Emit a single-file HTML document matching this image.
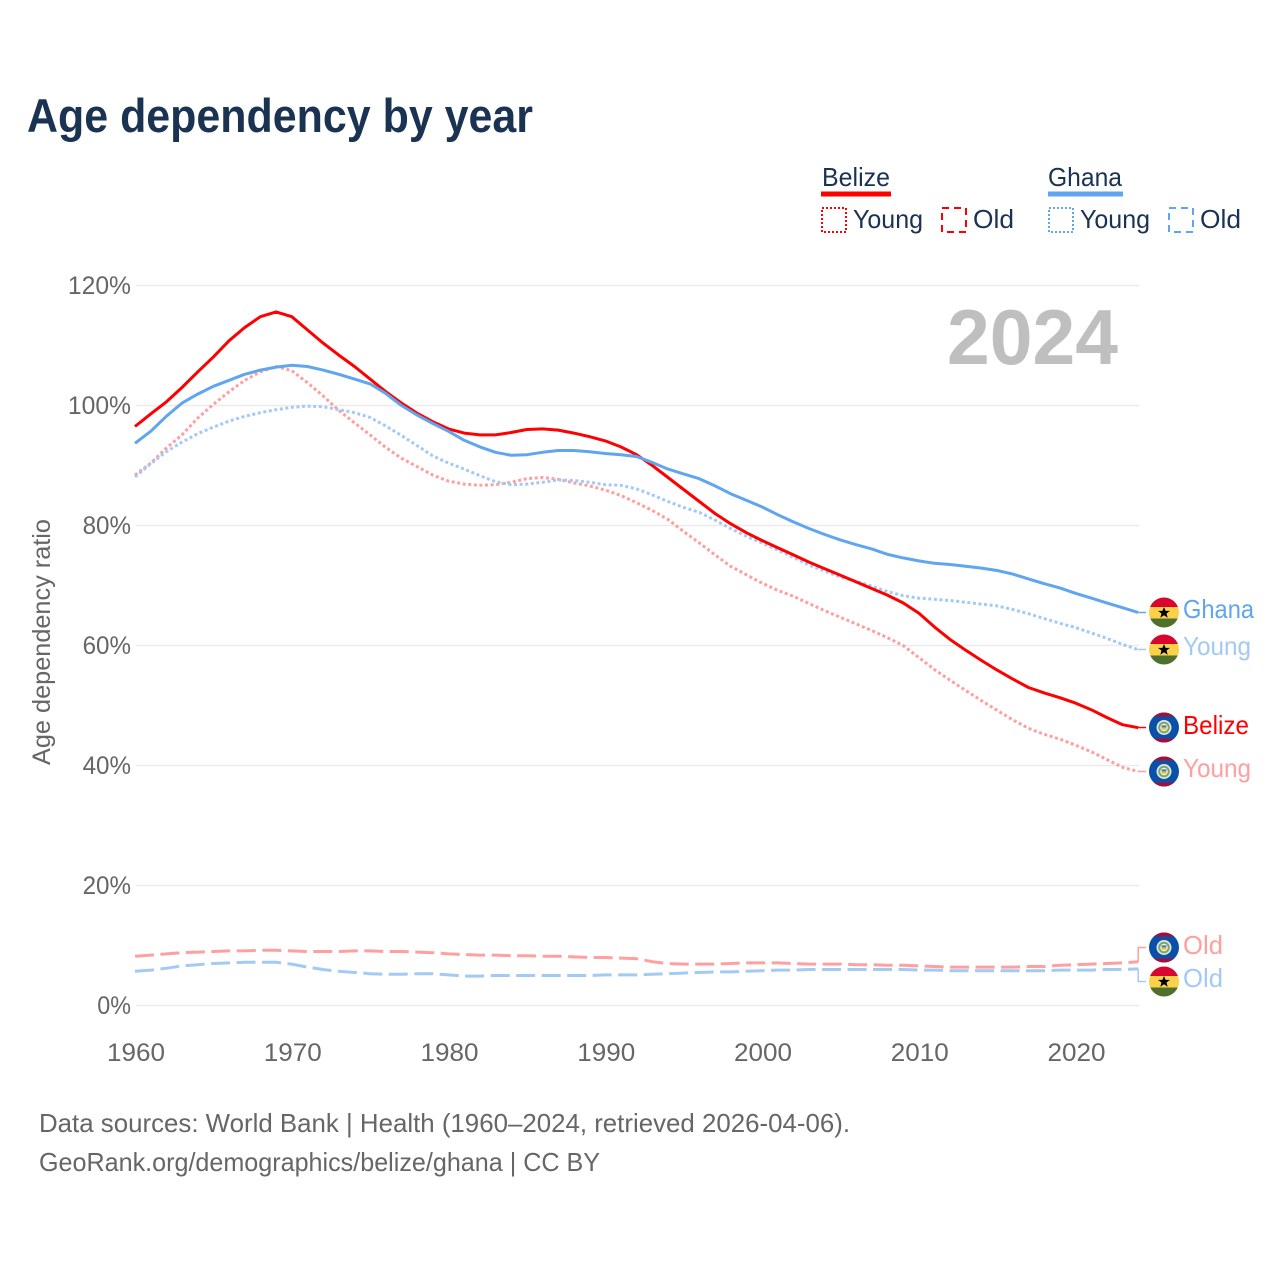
<!DOCTYPE html>
<html lang="en">
<head>
<meta charset="utf-8">
<title>Age dependency by year</title>
<style>
html,body{margin:0;padding:0;background:#fff;}
svg{display:block;font-family:"Liberation Sans",sans-serif;}
</style>
</head>
<body>
<svg id="chart" xmlns="http://www.w3.org/2000/svg" width="1280" height="1280" viewBox="0 0 1280 1280">
<defs>
<clipPath id="flag-clip"><circle cx="0" cy="0" r="15"/></clipPath>
<g id="flag-ghana" clip-path="url(#flag-clip)">
<rect x="-15" y="-15" width="30" height="9.5" fill="#d8062f"/>
<rect x="-15" y="-5.5" width="30" height="11.5" fill="#fcd14a"/>
<rect x="-15" y="6" width="30" height="9" fill="#4f6f2c"/>
<polygon points="0,-5.5 1.6,-1.6 6,-1.6 2.5,1 3.7,5.2 0,2.7 -3.7,5.2 -2.5,1 -6,-1.6 -1.6,-1.6" fill="#000"/>
</g>
<g id="flag-belize" clip-path="url(#flag-clip)">
<rect x="-15" y="-15" width="30" height="30" fill="#0a4fa8"/>
<rect x="-15" y="-15" width="30" height="4" fill="#a0103c"/>
<rect x="-15" y="11" width="30" height="4" fill="#a0103c"/>
<circle cx="0" cy="0" r="7.5" fill="#dfe8dc"/>
<circle cx="0" cy="0" r="5.8" fill="#7fa66a"/>
<circle cx="0" cy="0" r="3.8" fill="#f3f3ea"/>
<rect x="-2.4" y="-2.2" width="4.8" height="2.4" fill="#4d7fb5"/>
<rect x="-2.4" y="0.2" width="4.8" height="2.2" fill="#f2c93a"/>
</g>
</defs>

<rect width="1280" height="1280" fill="#fff"/>

<text x="27" y="132" font-size="47" font-weight="700" fill="#1a3352" textLength="506" lengthAdjust="spacingAndGlyphs">Age dependency by year</text>

<g fill="#1a3352" font-size="26">
<text x="822" y="186" textLength="68" lengthAdjust="spacingAndGlyphs">Belize</text>
<rect x="821" y="191.5" width="70" height="5" fill="#ff0000"/>
<rect x="822" y="208" width="24" height="24" fill="none" stroke="#ff0000" stroke-width="2" stroke-dasharray="2 2"/>
<text x="853" y="228" textLength="70" lengthAdjust="spacingAndGlyphs">Young</text>
<rect x="942" y="208" width="24" height="24" fill="none" stroke="#ff0000" stroke-width="2" stroke-dasharray="7 5"/>
<text x="973" y="228" textLength="41" lengthAdjust="spacingAndGlyphs">Old</text>
<text x="1048" y="186" textLength="74" lengthAdjust="spacingAndGlyphs">Ghana</text>
<rect x="1048" y="191.5" width="75" height="5" fill="#60a5ef"/>
<rect x="1049" y="208" width="24" height="24" fill="none" stroke="#60a5ef" stroke-width="2" stroke-dasharray="2 2"/>
<text x="1080" y="228" textLength="70" lengthAdjust="spacingAndGlyphs">Young</text>
<rect x="1169" y="208" width="24" height="24" fill="none" stroke="#60a5ef" stroke-width="2" stroke-dasharray="7 5"/>
<text x="1200" y="228" textLength="41" lengthAdjust="spacingAndGlyphs">Old</text>
</g>

<g id="grid"></g>
<g id="yticks"></g>
<g id="xticks"></g>

<text transform="translate(50,642) rotate(-90)" text-anchor="middle" font-size="25" fill="#666" textLength="246" lengthAdjust="spacingAndGlyphs">Age dependency ratio</text>

<text x="947" y="364" font-size="78" font-weight="700" fill="#bfbfbf" textLength="171" lengthAdjust="spacingAndGlyphs">2024</text>

<g id="series" fill="none" stroke-linejoin="round"></g>

<g font-size="26">
<use href="#flag-ghana" x="1164" y="612.5"/>
<text x="1183" y="618" fill="#60a5ef" textLength="71" lengthAdjust="spacingAndGlyphs">Ghana</text>
<use href="#flag-ghana" x="1164" y="649.5"/>
<text x="1183" y="655" fill="#a3c9f5" textLength="68" lengthAdjust="spacingAndGlyphs">Young</text>
<use href="#flag-belize" x="1164" y="727.5"/>
<text x="1183" y="734" fill="#ff0000" textLength="66" lengthAdjust="spacingAndGlyphs">Belize</text>
<use href="#flag-belize" x="1164" y="771.5"/>
<text x="1183" y="777" fill="#ff9f9f" textLength="68" lengthAdjust="spacingAndGlyphs">Young</text>
<use href="#flag-belize" x="1164" y="947.5"/>
<text x="1183" y="954" fill="#ff9f9f" textLength="40" lengthAdjust="spacingAndGlyphs">Old</text>
<use href="#flag-ghana" x="1164" y="981.5"/>
<text x="1183" y="987" fill="#a3c9f5" textLength="40" lengthAdjust="spacingAndGlyphs">Old</text>
</g>

<text x="39" y="1132" font-size="26" fill="#666" textLength="811" lengthAdjust="spacingAndGlyphs">Data sources: World Bank | Health (1960–2024, retrieved 2026-04-06).</text>
<text x="39" y="1171" font-size="26" fill="#666" textLength="561" lengthAdjust="spacingAndGlyphs">GeoRank.org/demographics/belize/ghana | CC BY</text>
</svg>

<script>
const startYear = 1960;
const yTicks = [0, 20, 40, 60, 80, 100, 120];
const xTicks = [1960, 1970, 1980, 1990, 2000, 2010, 2020];
const belizeTotal = [96.5,98.6,100.6,103,105.6,108.1,110.8,113,114.8,115.6,114.8,112.6,110.4,108.4,106.5,104.4,102.3,100.4,98.7,97.3,96.1,95.4,95.1,95.1,95.5,96,96.1,95.9,95.4,94.8,94.1,93.1,91.8,90,88,86,84,82,80.3,78.8,77.5,76.3,75.1,73.9,72.8,71.7,70.6,69.5,68.4,67.1,65.4,63.1,61,59.2,57.5,55.9,54.4,53,52.1,51.3,50.4,49.3,48,46.8,46.3];
const ghanaTotal = [93.7,95.7,98.2,100.4,101.9,103.2,104.2,105.2,105.9,106.4,106.7,106.5,105.9,105.2,104.4,103.6,102,100,98.4,97,95.7,94.2,93.1,92.2,91.7,91.8,92.2,92.5,92.5,92.3,92,91.8,91.5,90.5,89.4,88.6,87.8,86.6,85.3,84.2,83.1,81.8,80.6,79.5,78.5,77.6,76.8,76.1,75.2,74.6,74.1,73.7,73.5,73.2,72.9,72.5,71.9,71.1,70.3,69.6,68.7,67.9,67.1,66.3,65.5];
const belizeYoung = [88.4,90.4,92.9,95.1,97.9,100.2,102.3,104.2,105.6,106.5,105.8,103.8,101.6,99.2,97.1,95.1,93,91.2,89.8,88.4,87.4,86.9,86.7,86.8,87.2,87.8,88,87.7,87.1,86.6,85.9,85,83.8,82.5,81,79,77.1,75.1,73.2,71.8,70.4,69.2,68.2,67,65.8,64.7,63.6,62.5,61.3,60,58,56,54.2,52.5,50.8,49.2,47.6,46.2,45.2,44.4,43.4,42.3,41,39.7,39];
const ghanaYoung = [88.1,90.3,92.3,93.9,95.3,96.4,97.4,98.2,98.8,99.3,99.7,99.9,99.8,99.3,98.8,98,96.6,95,93.3,91.6,90.4,89.4,88.3,87.3,86.8,86.9,87.2,87.6,87.5,87.2,86.8,86.7,86.1,85.1,84,83,82.2,80.9,79.5,78.2,77.1,75.9,74.7,73.4,72.4,71.4,70.7,69.9,69,68.3,67.9,67.7,67.5,67.2,66.9,66.6,66,65.3,64.5,63.7,63,62.1,61.2,60.2,59.3];
const belizeOld = [8.2,8.4,8.6,8.8,8.9,9,9.1,9.1,9.2,9.2,9.1,9,9,9,9.1,9.1,9,9,8.9,8.8,8.6,8.5,8.4,8.4,8.3,8.3,8.2,8.2,8.1,8,8,7.9,7.8,7.3,7,6.9,6.9,6.9,7,7.1,7.1,7.1,7,6.9,6.9,6.9,6.8,6.8,6.7,6.7,6.6,6.5,6.4,6.4,6.4,6.4,6.4,6.5,6.5,6.7,6.8,6.9,7,7.1,7.3];
const ghanaOld = [5.7,5.9,6.2,6.6,6.8,7,7.1,7.2,7.2,7.2,6.9,6.4,6,5.7,5.5,5.3,5.2,5.2,5.3,5.3,5.1,4.9,4.9,5,5,5,5,5,5,5,5.1,5.1,5.1,5.2,5.3,5.4,5.5,5.6,5.6,5.7,5.8,5.9,5.9,6,6,6,6,6,6,6,5.9,5.9,5.8,5.8,5.8,5.8,5.8,5.8,5.8,5.9,5.9,5.9,6,6,6.1];

const NS = 'http://www.w3.org/2000/svg';
function xScale(year) { return 135 + (year - 1960) * 15.675; }
function yScale(value) { return 1005.5 - value * 6; }

const grid = document.getElementById('grid');
const yTickGroup = document.getElementById('yticks');
yTicks.forEach(function (t) {
  const line = document.createElementNS(NS, 'line');
  
  
  line.setAttribute('x1', 136);
  line.setAttribute('x2', 1139);
  line.setAttribute('y1', yScale(t));
  line.setAttribute('y2', yScale(t));
  line.setAttribute('stroke', '#ececec');
  line.setAttribute('stroke-width', '1.5');
  grid.appendChild(line);

  const label = document.createElementNS(NS, 'text');
  
  
  label.setAttribute('x', 131);
  label.setAttribute('y', yScale(t) + 8.5);
  label.setAttribute('text-anchor', 'end');
  label.setAttribute('font-size', '25');
  label.setAttribute('fill', '#666');
  label.setAttribute('textLength', String(t).length * 14.7 + 19);
  label.setAttribute('lengthAdjust', 'spacingAndGlyphs');
  label.textContent = t + '%';
  yTickGroup.appendChild(label);
});

const xTickGroup = document.getElementById('xticks');
xTicks.forEach(function (t) {
  const label = document.createElementNS(NS, 'text');
  
  
  label.setAttribute('x', xScale(t) + 1);
  label.setAttribute('y', 1061);
  label.setAttribute('text-anchor', 'middle');
  label.setAttribute('font-size', '25');
  label.setAttribute('fill', '#666');
  label.setAttribute('textLength', 58);
  label.setAttribute('lengthAdjust', 'spacingAndGlyphs');
  label.textContent = t;
  xTickGroup.appendChild(label);
});

const seriesGroup = document.getElementById('series');
function drawSeries(values, name, color, dash, flagY) {
  const pts = values.map(function (v, i) {
    return xScale(startYear + i).toFixed(1) + ',' + yScale(v).toFixed(1);
  });
  const path = document.createElementNS(NS, 'polyline');
  
  
  path.setAttribute('points', pts.join(' '));
  path.setAttribute('stroke', color);
  path.setAttribute('stroke-width', '3');
  if (dash) path.setAttribute('stroke-dasharray', dash);
  seriesGroup.appendChild(path);

  const endX = xScale(startYear + values.length - 1);
  const endY = yScale(values[values.length - 1]);
  const leader = document.createElementNS(NS, 'polyline');
  
  
  leader.setAttribute('points', endX + ',' + endY + ' ' + endX + ',' + flagY + ' 1146,' + flagY);
  leader.setAttribute('stroke', color);
  leader.setAttribute('stroke-width', '1.5');
  seriesGroup.appendChild(leader);
}
drawSeries(ghanaOld, 'line-ghana-old', '#a3c9f5', '19 6.5', 981.5);
drawSeries(belizeOld, 'line-belize-old', '#ff9f9f', '19 6.5', 947.5);
drawSeries(belizeYoung, 'line-belize-young', '#ff9f9f', '3 2.6', 771.5);
drawSeries(ghanaYoung, 'line-ghana-young', '#a3c9f5', '3 2.6', 649.5);
drawSeries(belizeTotal, 'line-belize-total', '#ff0000', '', 727.5);
drawSeries(ghanaTotal, 'line-ghana-total', '#60a5ef', '', 612.5);
</script>
</body>
</html>
